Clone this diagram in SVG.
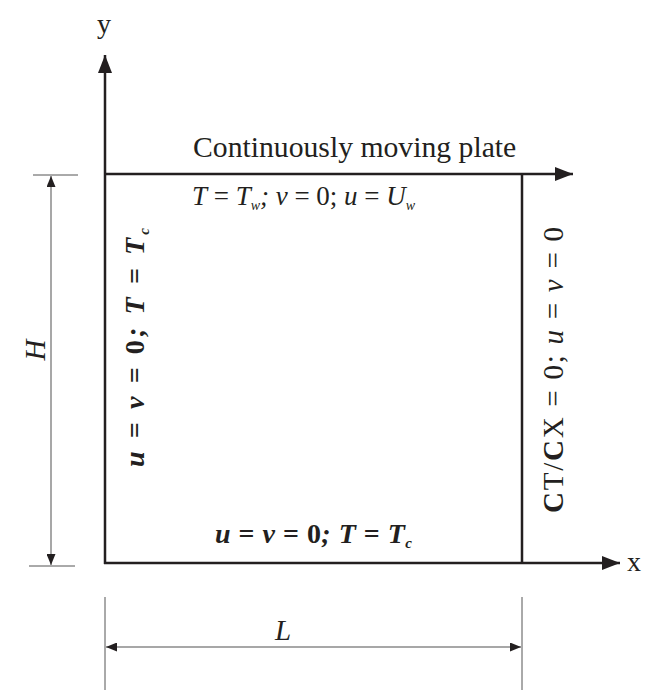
<svg xmlns="http://www.w3.org/2000/svg" width="645" height="692" viewBox="0 0 645 692">
<style>
.ax{stroke:#231f20;stroke-width:2.5;fill:none}
.dim{stroke:#8a8a8a;stroke-width:1.5;fill:none}
.ext{stroke:#555;stroke-width:1;fill:none}
text{font-family:'Liberation Serif','Times New Roman',Tinos,serif;fill:#231f20}
.i{font-style:italic}
.n{font-style:normal}
.b{font-weight:bold}
</style>
<defs>
<marker id="big" viewBox="0 0 10 10" refX="10" refY="5" markerWidth="18" markerHeight="14" orient="auto" markerUnits="userSpaceOnUse" preserveAspectRatio="none">
<path d="M0,0 L10,5 L0,10 z" fill="#231f20"/>
</marker>
<marker id="dh" viewBox="0 0 10 10" refX="10" refY="5" markerWidth="11" markerHeight="9" orient="auto-start-reverse" markerUnits="userSpaceOnUse" preserveAspectRatio="none">
<path d="M0,0 L10,5 L0,10 z" fill="#231f20"/>
</marker>
</defs>
<g id="connectors">
<line class="ax" x1="105" y1="564" x2="105" y2="55" marker-end="url(#big)"/>
<line class="ax" x1="104" y1="563" x2="620" y2="563" marker-end="url(#big)"/>
<line class="ax" x1="104" y1="174" x2="573" y2="174" marker-end="url(#big)"/>
<line class="ax" x1="522" y1="174" x2="522" y2="563"/>
<line class="ext" x1="33" y1="175" x2="78" y2="175"/>
<line class="ext" x1="29" y1="566" x2="75" y2="566"/>
<line class="dim" x1="51" y1="176" x2="51" y2="565" marker-start="url(#dh)" marker-end="url(#dh)"/>
<line class="ext" x1="105" y1="597" x2="105" y2="690"/>
<line class="ext" x1="522" y1="597" x2="522" y2="690"/>
<line class="dim" x1="106" y1="647" x2="521" y2="647" marker-start="url(#dh)" marker-end="url(#dh)"/>
</g>
<g id="label-y"><text x="104" y="33" font-size="28" text-anchor="middle">y</text></g>
<g id="label-x"><text x="627" y="571" font-size="28">x</text></g>
<g id="top-plate"><text x="193" y="157" font-size="29.7">Continuously moving plate</text></g>
<g id="top-bc"><text class="i" x="192" y="205" font-size="27" textLength="223">T<tspan class="n"> = </tspan>T<tspan font-size="14" dy="5">w</tspan><tspan dy="-5">; v</tspan><tspan class="n"> = 0;</tspan> u<tspan class="n"> = </tspan>U<tspan font-size="14" dy="5">w</tspan></text></g>
<g id="left-bc"><text class="i b" transform="translate(144,467) rotate(-90)" font-size="28" textLength="239">u<tspan class="n"> = </tspan>v<tspan class="n"> = 0</tspan>; T<tspan class="n"> = </tspan>T<tspan font-size="15" dy="5">c</tspan></text></g>
<g id="bottom-bc"><text class="i b" x="215" y="543" font-size="28" textLength="197">u<tspan class="n"> = </tspan>v<tspan class="n"> = 0</tspan>; T<tspan class="n"> = </tspan>T<tspan font-size="15" dy="5">c</tspan></text></g>
<g id="right-bc"><text transform="translate(563,513) rotate(-90)" font-size="29" textLength="286"><tspan font-weight="bold">C</tspan>T/<tspan font-weight="bold">C</tspan>X = 0; <tspan font-style="italic">u</tspan> = <tspan font-style="italic">v</tspan> = 0</text></g>
<g id="label-H"><text class="i" transform="translate(45,350) rotate(-90)" font-size="29" text-anchor="middle">H</text></g>
<g id="label-L"><text class="i" x="283" y="640" font-size="29" text-anchor="middle">L</text></g>
</svg>
